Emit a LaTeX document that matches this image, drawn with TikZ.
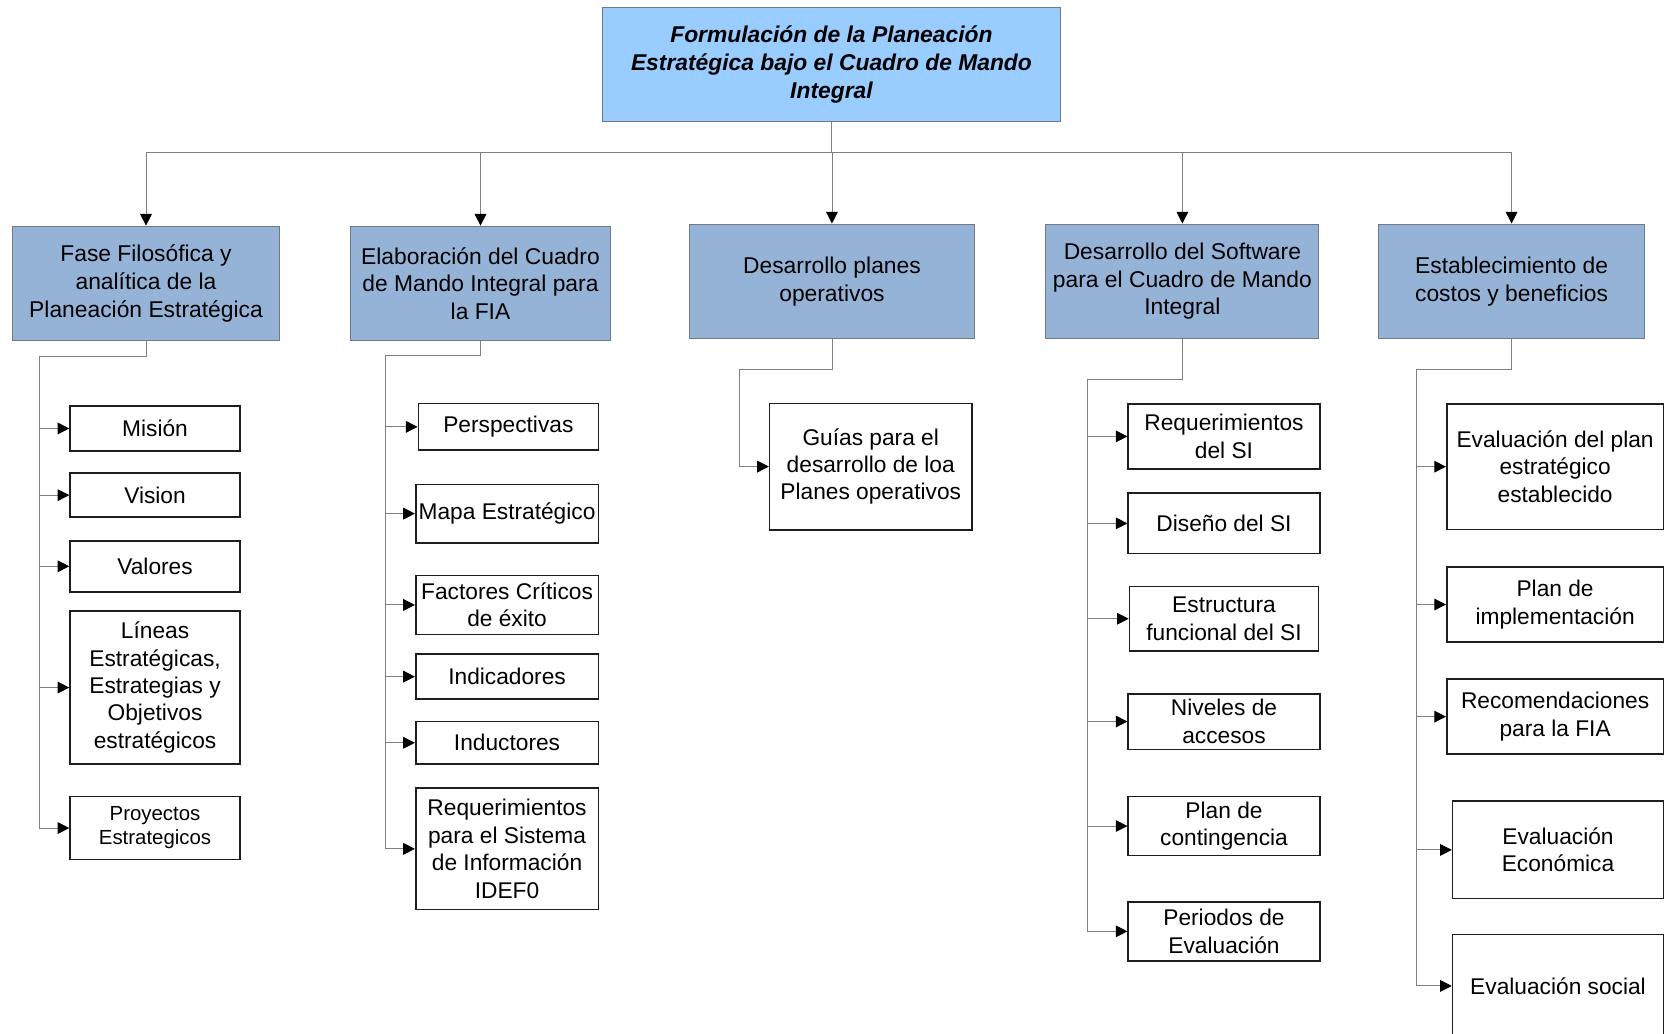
\documentclass[tikz,border=0pt]{standalone}
\usepackage{fontspec}
\setmainfont{Liberation Sans}
\usetikzlibrary{arrows.meta}

\definecolor{titleblue}{RGB}{153,204,255}
\definecolor{phaseblue}{RGB}{149,179,215}
\definecolor{phaseedge}{RGB}{112,122,134}
\definecolor{linegray}{RGB}{128,128,128}
\definecolor{itemedge}{RGB}{30,30,30}

\tikzset{
  conn/.style={draw=linegray, line width=0.9pt},
  arr/.style={conn, -{Triangle[length=11pt,width=11pt,color=black]}},
  titlebox/.style={draw=phaseedge, fill=titleblue, line width=1pt, inner sep=0pt,
    align=center, font=\bfseries\itshape\fontsize{21.5}{26.5}\selectfont},
  phase/.style={draw=phaseedge, fill=phaseblue, line width=1pt, inner sep=0pt,
    align=center, font=\fontsize{21.5}{26}\selectfont},
  item/.style={draw=itemedge, fill=white, line width=1.5pt, inner sep=0pt,
    align=center, font=\fontsize{21.4}{25.8}\selectfont},
  smallitem/.style={item, font=\fontsize{19.2}{22.7}\selectfont},
  box/.style n args={2}{minimum width=#1pt, minimum height=#2pt}
}

\begin{document}
\begin{tikzpicture}[x=1pt, y=-1pt]
\useasboundingbox (0,0) rectangle (1568,973);

% root
\node[titlebox, box={432}{107}] (root) at (783,60.5)
  {Formulación de la Planeación\\Estratégica bajo el Cuadro de Mando\\Integral};

% phases
\node[phase, box={251}{108}] (p1) at (137.5,267)
  {Fase Filosófica y\\analítica de la\\Planeación Estratégica};
\node[phase, box={245}{108}] (p2) at (452.5,267)
  {Elaboración del Cuadro\\de Mando Integral para\\la FIA};
\node[phase, box={269}{108}] (p3) at (783.5,265)
  {Desarrollo planes\\operativos};
\node[phase, box={257}{108}] (p4) at (1113.5,265)
  {Desarrollo del Software\\para el Cuadro de Mando\\Integral};
\node[phase, box={251}{108}] (p5) at (1423.5,265)
  {Establecimiento de\\costos y beneficios};

\coordinate (bus) at (783,144);
\foreach \p in {p1,p2,p3,p4,p5}
  \draw[arr] (root.south) -- (bus) -| (\p.north);

% phase 1 items
\node[item, box={160}{42.5}] (a1) at (146,403.5) {Misión};
\node[item, box={160}{41.5}] (a2) at (146,466.3) {Vision};
\node[item, box={160}{48}]   (a3) at (146,533.3) {Valores};
\node[item, box={160}{144}]  (a4) at (146,647.5)
  {Líneas\\Estratégicas,\\Estrategias y\\Objetivos\\estratégicos};
\node[smallitem, box={160}{59.6}] (a5) at (146,779.8) {Proyectos\\Estrategicos};

\coordinate (s1) at (37.3,336);
\foreach \c in {a1,a2,a3,a4,a5}
  \draw[arr] (p1.south) |- (s1) |- (\c.west);

% phase 2 items
\node[item, box={169.5}{44}] (b1) at (478.75,402) {Perspectivas};
\node[item, box={172}{55}]   (b2) at (477.5,483.7) {Mapa Estratégico};
\node[item, box={172}{55.5}] (b3) at (477.5,569.7) {Factores Críticos\\de éxito};
\node[item, box={172}{42.5}] (b4) at (477.5,637.2) {Indicadores};
\node[item, box={172}{40}]   (b5) at (477.5,699.5) {Inductores};
\node[item, box={172}{114.5}] (b6) at (477.5,799.4)
  {Requerimientos\\para el Sistema\\de Información\\IDEF0};

\coordinate (s2) at (362.7,335);
\foreach \c in {b1,b2,b3,b4,b5,b6}
  \draw[arr] (p2.south) |- (s2) |- (\c.west);

% phase 3 item
\node[item, box={190.3}{119}] (c1) at (820,439.4)
  {Guías para el\\desarrollo de loa\\Planes operativos};

\coordinate (s3) at (696,348);
\draw[arr] (p3.south) |- (s3) |- (c1.west);

% phase 4 items
\node[item, box={180.4}{61}]   (d1) at (1152.7,411) {Requerimientos\\del SI};
\node[item, box={180.4}{57}]   (d2) at (1152.7,492.9) {Diseño del SI};
\node[item, box={178}{61}]     (d3) at (1152.7,582.7) {Estructura\\funcional del SI};
\node[item, box={180.4}{52.3}] (d4) at (1152.7,679.5) {Niveles de\\accesos};
\node[item, box={180.4}{55.4}] (d5) at (1152.7,777.9) {Plan de\\contingencia};
\node[item, box={180.4}{55.4}] (d6) at (1152.7,877.1) {Periodos de\\Evaluación};

\coordinate (s4) at (1024,357.5);
\foreach \c in {d1,d2,d3,d4,d5,d6}
  \draw[arr] (p4.south) |- (s4) |- (\c.west);

% phase 5 items (the last box runs past the lower edge of the page)
\node[item, box={204}{118.3}] (e1) at (1464.5,439.5)
  {Evaluación del plan\\estratégico\\establecido};
\node[item, box={204}{70.2}]  (e2) at (1464.5,569.3) {Plan de\\implementación};
\node[item, box={204}{70.5}]  (e3) at (1464.5,674.9) {Recomendaciones\\para la FIA};
\node[item, box={198.5}{91.7}] (e4) at (1467.25,800.4) {Evaluación\\Económica};
\node[item, box={198.5}{97}]  (e5) at (1467.25,928.5) {Evaluación social};

\coordinate (s5) at (1333.5,348);
\foreach \c in {e1,e2,e3,e4,e5}
  \draw[arr] (p5.south) |- (s5) |- (\c.west);

\end{tikzpicture}
\end{document}
